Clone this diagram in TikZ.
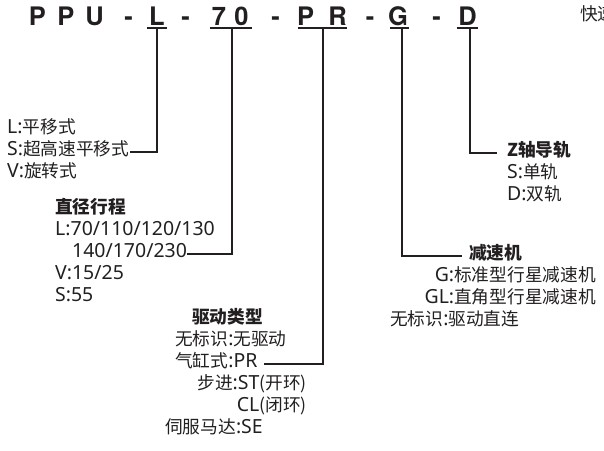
\documentclass[tikz,border=0pt]{standalone}
\usepackage{fontspec}
\setmainfont{Noto Sans CJK SC}
\newfontfamily\codefont{TeX Gyre Heros}
\newfontfamily\latfont{Noto Sans}[Scale=1.1]
\newcommand\la[1]{{\latfont #1}}
\usepackage{tikz}
\definecolor{ink}{HTML}{231F20}

\begin{document}
\begin{tikzpicture}[x=1pt,y=-1pt,
  lbl/.style={inner sep=0pt,text height=.76em,text depth=0pt,text=ink,font=\fontsize{17.7}{20}\selectfont},
  hd/.style={lbl,font=\fontsize{17.7}{20}\selectfont\bfseries},
  code/.style={inner sep=0pt,anchor=base,text=ink,font=\codefont\bfseries\fontsize{25.5}{30}\selectfont},
  lead/.style={draw=ink,line width=1.6pt}]
\useasboundingbox (0,0) rectangle (604,450);
\foreach \ch/\x [count=\i] in {P/37.5,P/66,U/94.5,-/128.5,L/157,-/185.5,7/219,0/241.5,-/275.5,P/305.5,R/337.5,-/370,G/398,-/436.5,D/467.5}
  \node[code] (g\i) at (\x,25) {\ch};
\foreach \n/\a/\b/\m in {L/147/167/157,70/210/252/232,PR/298/347/323,G/390/409/402,D/457/478/470} {
  \draw[draw=ink,line width=1.2pt] (\a,28) -- (\b,28);
  \coordinate (u\n) at (\m,28);
}
\node[lbl,anchor=west] (qk) at (580,17) {快速};

\node[lbl,anchor=west] (mvL) at (7,130) {\la{L:}平移式};
\node[lbl,anchor=west] (mvS) at (7,152) {\la{S:}超高速平移式};
\node[lbl,anchor=west] (mvV) at (7,174) {\la{V:}旋转式};

\node[hd,anchor=west] (strT) at (55,210) {直径行程};
\node[lbl,anchor=west] (strL) at (55,232) {\la{L:70/110/120/130}};
\node[lbl,anchor=west] (strL2) at (72,254) {\la{140/170/230}};
\node[lbl,anchor=west] (strV) at (55,276) {\la{V:15/25}};
\node[lbl,anchor=west] (strS) at (55,298) {\la{S:55}};

\node[hd,anchor=west] (drT) at (192,320) {驱动类型};
\node[lbl,anchor=west] (drN) at (175,342) {无标识\la{:}无驱动};
\node[lbl,anchor=west] (drP) at (175,364) {气缸式\la{:PR}};
\node[lbl,anchor=east] (drS) at (307,386) {步进\la{:ST}(开环)};
\node[lbl,anchor=east] (drC) at (307,408) {\la{CL}(闭环)};
\node[lbl,anchor=west] (drE) at (165,430) {伺服马达\la{:SE}};

\node[hd,anchor=west] (gbT) at (469,256) {减速机};
\node[lbl,anchor=east] (gbG) at (596,278) {\la{G:}标准型行星减速机};
\node[lbl,anchor=east] (gbGL) at (596,300) {\la{GL:}直角型行星减速机};
\node[lbl,anchor=west] (gbN) at (390,322) {无标识\la{:}驱动直连};

\node[hd,anchor=west] (rlT) at (507,153) {Z轴导轨};
\node[lbl,anchor=west] (rlS) at (507,175) {\la{S:}单轨};
\node[lbl,anchor=west] (rlD) at (507,197) {\la{D:}双轨};

\draw[lead] (uL) |- (mvS.east);
\draw[lead] (u70) |- (strL2.east);
\draw[lead] (uPR) |- ([xshift=6pt]drP.east);
\draw[lead] (uG) |- ([xshift=-7pt]gbT.west);
\draw[lead] (uD) |- ([xshift=-10pt]rlT.west);
\end{tikzpicture}
\end{document}
